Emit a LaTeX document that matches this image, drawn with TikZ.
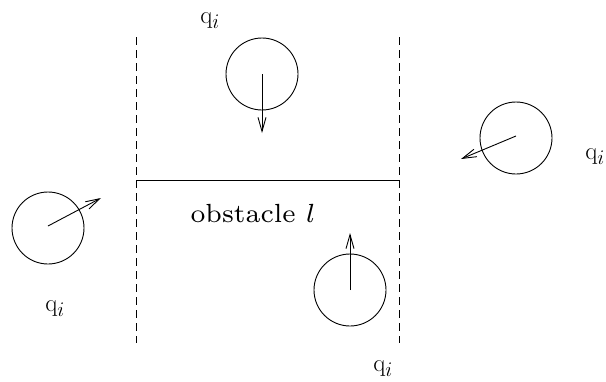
\documentclass[tikz,border=0pt]{standalone}
\usepackage{graphicx}
\usetikzlibrary{arrows.meta}
\begin{document}
\begin{tikzpicture}[x=1pt,y=-1pt,
  label/.style={font=\fontsize{29}{34}\selectfont,inner sep=0pt},
  robot/.style={draw,circle,minimum size=72pt,inner sep=0pt,line width=0.9pt},
  heading/.style={line width=0.9pt,-{Straight Barb[length=14pt,width=8pt,line width=0.9pt]}},
  boundary/.style={line width=0.9pt,dash pattern=on 8pt off 5pt},
  wall/.style={line width=0.9pt}]
\useasboundingbox (0,0) rectangle (606,381);
% boundaries
\coordinate (lt) at (136,37);
\coordinate (lb) at (136,343);
\coordinate (rt) at (399,37);
\coordinate (rb) at (399,343);
\coordinate (wl) at (136,180);
\coordinate (wr) at (399,180);
\draw[boundary] (lt) -- (lb);
\draw[boundary] (rt) -- (rb);
\draw[wall] (wl) -- (wr);
\node[inner sep=0pt,anchor=base] (obs) at (253,222) {\scalebox{3.75}{\fontsize{7}{8}\selectfont obstacle $l$}};
% robots
\node[robot] (c1) at (262,74) {};
\coordinate (h1) at (262,133);
\draw[heading] (c1.center) -- (h1);
\node[label] (q1) at (210,21) {$\mathrm{q}_i$};

\node[robot] (c2) at (516,138) {};
\coordinate (h2) at (461,159);
\draw[heading] ([yshift=2pt]c2.center) -- (h2);
\node[label] (q2) at (595,157) {$\mathrm{q}_i$};

\node[robot] (c3) at (48,228) {};
\coordinate (h3) at (101,198);
\draw[heading] ([yshift=2pt]c3.center) -- (h3);
\node[label] (q3) at (55,309) {$\mathrm{q}_i$};

\node[robot] (c4) at (350,290) {};
\coordinate (h4) at (350,233);
\draw[heading] (c4.center) -- (h4);
\node[label] (q4) at (383,369) {$\mathrm{q}_i$};
\end{tikzpicture}
\end{document}
